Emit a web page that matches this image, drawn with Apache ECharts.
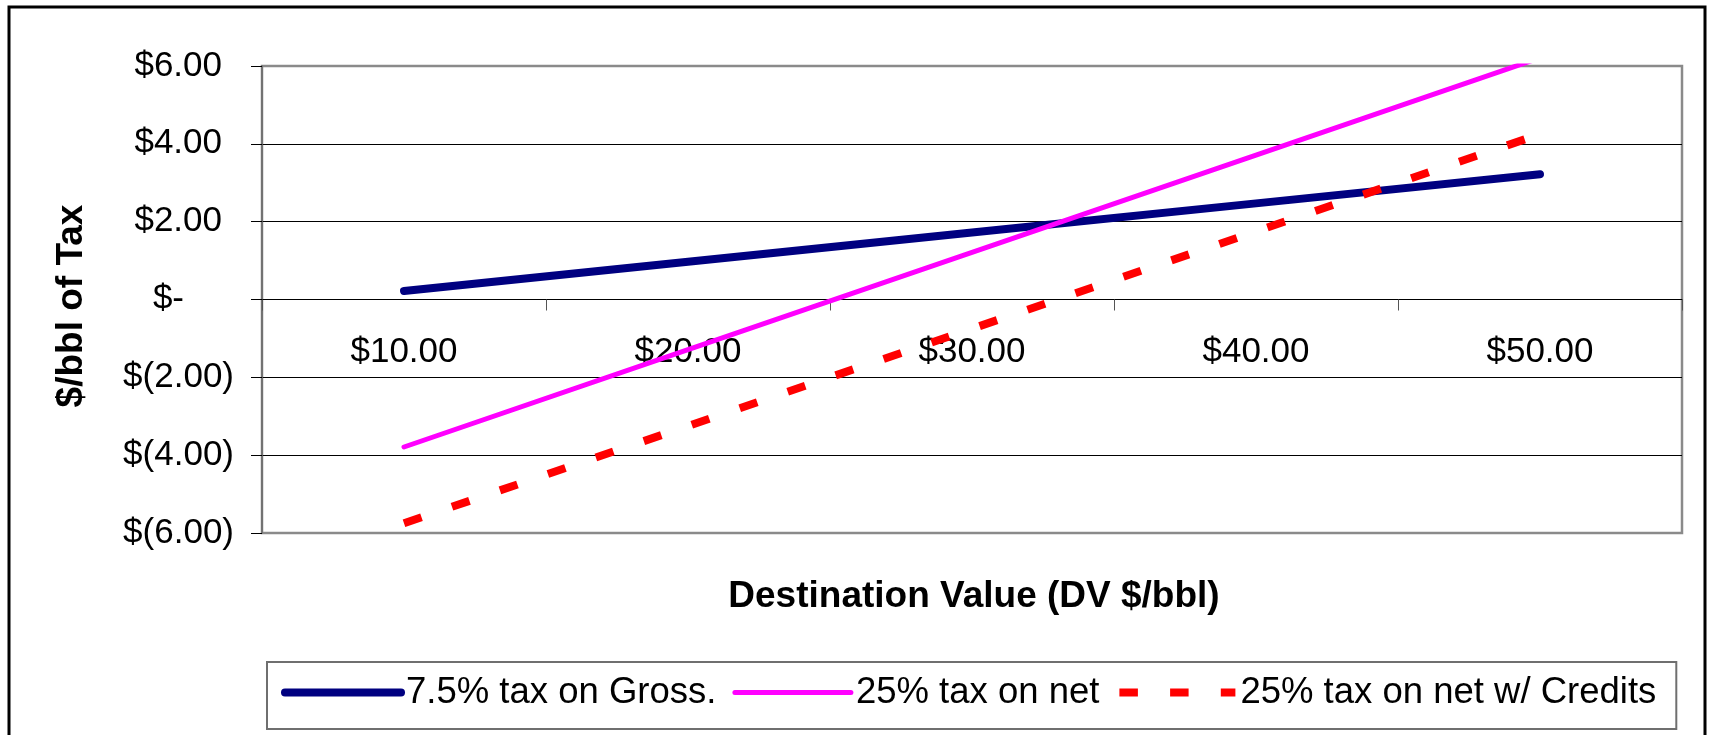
<!DOCTYPE html>
<html>
<head>
<meta charset="utf-8">
<script src="https://cdn.jsdelivr.net/npm/echarts@6/dist/echarts.min.js"></script>
<style>
html,body{margin:0;padding:0;background:#fff;}
#c{width:1710px;height:735px;}
</style>
</head>
<body>
<div id="c"></div>
<script>
// ---- data ----
const categories = ['$10.00', '$20.00', '$30.00', '$40.00', '$50.00'];
const taxOnGross = [0.22, 0.97, 1.72, 2.47, 3.22];
const taxOnNet = [-3.79, -1.29, 1.21, 3.71, 6.21];
const taxOnNetCredits = [-5.75, -3.25, -0.75, 1.75, 4.25];
const seriesNames = ['7.5% tax on Gross.', '25% tax on net', '25% tax on net w/ Credits'];
const yMin = -6, yMax = 6, yStep = 2;
const xTitle = 'Destination Value (DV $/bbl)';
const yTitle = '$/bbl of Tax';

const FONT = "'Liberation Sans', Arial, Helvetica, sans-serif";

function fmtY(v) {
  if (v === 0) return '{n|$-}{z| }';
  if (v < 0) return '{n|$(' + Math.abs(v).toFixed(2) + ')}';
  return '{n|$' + v.toFixed(2) + '}{p| }';
}

const GRID_TOP = 66, GRID_BOTTOM = 202, H = 735;
// the category axis crosses the value axis at 0 (middle of the symmetric range)
const plotH = H - GRID_TOP - GRID_BOTTOM;
const zeroOffset = -plotH * (0 - yMin) / (yMax - yMin);

const chart = echarts.init(document.getElementById('c'), null, {renderer: 'canvas'});
const option = {
  animation: false,
  backgroundColor: '#ffffff',
  grid: {
    left: 262, right: 28, top: GRID_TOP, bottom: GRID_BOTTOM,
    show: true, borderColor: '#8a8a8a', borderWidth: 2.5, backgroundColor: 'rgba(0,0,0,0)'
  },
  xAxis: {
    type: 'category',
    data: categories,
    boundaryGap: true,
    offset: zeroOffset,
    axisLine: {show: true, onZero: false, lineStyle: {color: '#000', width: 1}},
    axisTick: {show: true, interval: 0, length: 11, lineStyle: {color: '#555', width: 1}},
    axisLabel: {interval: 0, margin: 35, fontSize: 35, color: '#000', fontFamily: FONT},
    splitLine: {show: false}
  },
  yAxis: {
    type: 'value',
    min: yMin, max: yMax, interval: yStep,
    axisLine: {show: true, lineStyle: {color: '#6a6a6a', width: 1.5}},
    axisTick: {show: true, length: 11, lineStyle: {color: '#000', width: 1}},
    splitLine: {show: true, lineStyle: {width: 1,
      color: ['rgba(0,0,0,0)', '#000', '#000', '#000', '#000', '#000', 'rgba(0,0,0,0)']}},
    axisLabel: {
      margin: 28,
      formatter: fmtY,
      rich: {
        n: {fontSize: 35, fontFamily: FONT, color: '#000'},
        p: {width: 12, fontSize: 35, fontFamily: FONT},
        z: {width: 50, fontSize: 35, fontFamily: FONT}
      }
    }
  },
  legend: {
    data: seriesNames,
    left: 267, top: 662,
    orient: 'horizontal',
    itemWidth: 116, itemHeight: 8, itemGap: 16,
    padding: [12, 20, 18, 14],
    borderColor: '#6f6f6f', borderWidth: 2,
    backgroundColor: '#fff',
    textStyle: {fontSize: 36.5, color: '#000', fontFamily: FONT},
    itemStyle: {opacity: 0},
    lineStyle: {width: 'inherit'},
    selectedMode: false
  },
  series: [
    {
      name: seriesNames[0], type: 'line', data: taxOnGross,
      symbol: 'none', clip: true, silent: true,
      itemStyle: {color: '#000080'},
      lineStyle: {color: '#000080', width: 8, cap: 'round'}
    },
    {
      name: seriesNames[1], type: 'line', data: taxOnNet,
      symbol: 'none', clip: true, silent: true,
      itemStyle: {color: '#ff00ff'},
      lineStyle: {color: '#ff00ff', width: 5, cap: 'round'}
    },
    {
      name: seriesNames[2], type: 'line', data: taxOnNetCredits,
      symbol: 'none', clip: true, silent: true,
      itemStyle: {color: '#ff0000'},
      lineStyle: {color: '#ff0000', width: 8, type: [18.5, 32.2], cap: 'butt'}
    }
  ],
  graphic: [
    {
      type: 'rect', silent: true, z: 100,
      shape: {x: 9, y: 7, width: 1696, height: 800},
      style: {fill: 'none', stroke: '#000', lineWidth: 3}
    },
    {
      type: 'text', silent: true, x: 974, y: 597,
      style: {text: xTitle, fontSize: 37, fontWeight: 'bold', fontFamily: FONT, fill: '#000',
        align: 'center', verticalAlign: 'middle'}
    },
    {
      type: 'text', silent: true, x: 72, y: 306, rotation: Math.PI / 2,
      style: {text: yTitle, fontSize: 37, fontWeight: 'bold', fontFamily: FONT, fill: '#000',
        align: 'center', verticalAlign: 'middle'}
    }
  ]
};
chart.setOption(option);
</script>
</body>
</html>
